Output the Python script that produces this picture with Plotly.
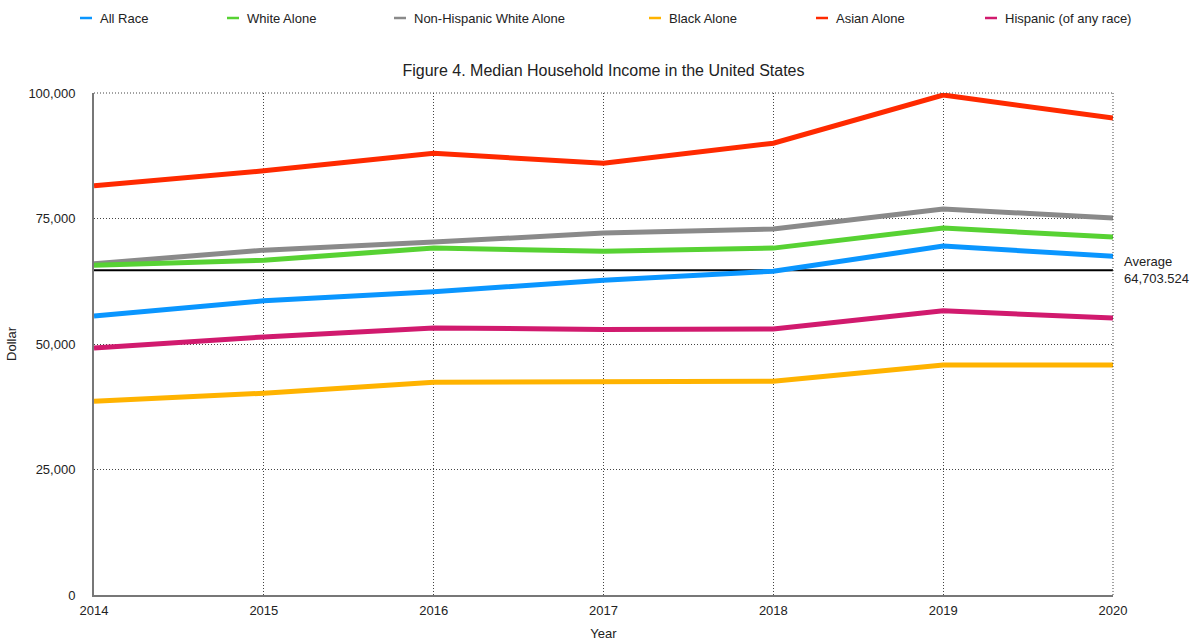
import plotly.graph_objects as go

years = [2014, 2015, 2016, 2017, 2018, 2019, 2020]
series_names = ["All Race", "White Alone", "Non-Hispanic White Alone",
                "Black Alone", "Asian Alone", "Hispanic (of any race)"]
all_race = [55600, 58600, 60400, 62700, 64500, 69500, 67500]
white_alone = [65700, 66700, 69100, 68500, 69100, 73100, 71300]
nonhisp_white = [66000, 68700, 70300, 72100, 72900, 76900, 75100]
black_alone = [38600, 40200, 42400, 42400, 42600, 45800, 45800]
asian_alone = [81500, 84500, 88000, 86000, 90000, 99600, 95000]
hispanic = [49200, 51400, 53200, 52900, 53000, 56600, 55200]
average_value = 64703.524
y_ticks = [0, 25000, 50000, 75000, 100000]

colors = {
    "All Race": "#0A96FF",
    "White Alone": "#57D233",
    "Non-Hispanic White Alone": "#8A8A8A",
    "Black Alone": "#FFB300",
    "Asian Alone": "#FF2A00",
    "Hispanic (of any race)": "#D11A6E",
}
values = {
    "All Race": all_race,
    "White Alone": white_alone,
    "Non-Hispanic White Alone": nonhisp_white,
    "Black Alone": black_alone,
    "Asian Alone": asian_alone,
    "Hispanic (of any race)": hispanic,
}

FONT = "Liberation Sans, Arial, Helvetica, sans-serif"
fig = go.Figure()

# average line
fig.add_trace(go.Scatter(x=[years[0], years[-1]], y=[average_value, average_value],
                         mode="lines", line=dict(color="black", width=2),
                         showlegend=False, hoverinfo="skip"))

draw_order = ["Non-Hispanic White Alone", "White Alone", "All Race",
              "Black Alone", "Asian Alone", "Hispanic (of any race)"]
for name in draw_order:
    fig.add_trace(go.Scatter(x=years, y=values[name], mode="lines", name=name,
                             line=dict(color=colors[name], width=5),
                             showlegend=False))

W, H = 1197, 641
PL, PR, PT, PB = 94, 1113, 93, 595
PW, PH = PR - PL, PB - PT


def px_x(x):
    return (x - PL) / PW


def px_y(y):
    return (PB - y) / PH


# manual legend (layout positions in pixels)
legend_x = [80, 227, 394, 649, 816, 985]
shapes = []
annotations = []
for name, lx in zip(series_names, legend_x):
    shapes.append(dict(type="line", xref="paper", yref="paper",
                       x0=px_x(lx), x1=px_x(lx + 12),
                       y0=px_y(18), y1=px_y(18),
                       line=dict(color=colors[name], width=2.5)))
    annotations.append(dict(text=name, xref="paper", yref="paper",
                            x=px_x(lx + 18), y=px_y(19),
                            xanchor="left", yanchor="middle", showarrow=False,
                            font=dict(size=13, color="#222", family=FONT)))

annotations.append(dict(text="Average<br>64,703.524", xref="paper", yref="y",
                        x=px_x(1122), y=average_value,
                        xanchor="left", yanchor="middle", align="left",
                        showarrow=False,
                        font=dict(size=13, color="#222", family=FONT)))

# dotted top and right borders (grid at range edges)
shapes.append(dict(type="line", xref="paper", yref="paper", x0=0, x1=1, y0=1, y1=1,
                   line=dict(color="#444", width=1, dash="1px,2px")))
shapes.append(dict(type="line", xref="paper", yref="paper", x0=1, x1=1, y0=0, y1=1,
                   line=dict(color="#444", width=1, dash="1px,2px")))

fig.update_layout(
    width=W, height=H,
    margin=dict(l=PL, r=W - PR, t=PT, b=H - PB),
    paper_bgcolor="white", plot_bgcolor="white",
    font=dict(family=FONT, size=13, color="#222"),
    title=dict(text="Figure 4. Median Household Income in the United States",
               x=0.5, xref="paper", y=(H - 70) / H, yanchor="middle",
               font=dict(size=16, color="#222", family=FONT)),
    shapes=shapes,
    annotations=annotations,
    showlegend=False,
    xaxis=dict(range=[years[0], years[-1]], tickvals=years,
               ticktext=[str(y) for y in years], automargin=False,
               showgrid=True, gridcolor="#444", griddash="1px,2px", gridwidth=1,
               showline=True, linecolor="#777", linewidth=2, mirror=False,
               zeroline=False, ticks="", ticklabelstandoff=2,
               title=dict(text="Year", standoff=14,
                          font=dict(size=13, color="#222", family=FONT))),
    yaxis=dict(range=[0, 100000], tickvals=y_ticks, tickformat=",d",
               automargin=False,
               showgrid=True, gridcolor="#444", griddash="1px,2px", gridwidth=1,
               showline=True, linecolor="#777", linewidth=2,
               zeroline=False, ticks="", ticklabelstandoff=14,
               title=dict(text="Dollar", standoff=9,
                          font=dict(size=13, color="#222", family=FONT))),
)

fig.write_html("out.html")
